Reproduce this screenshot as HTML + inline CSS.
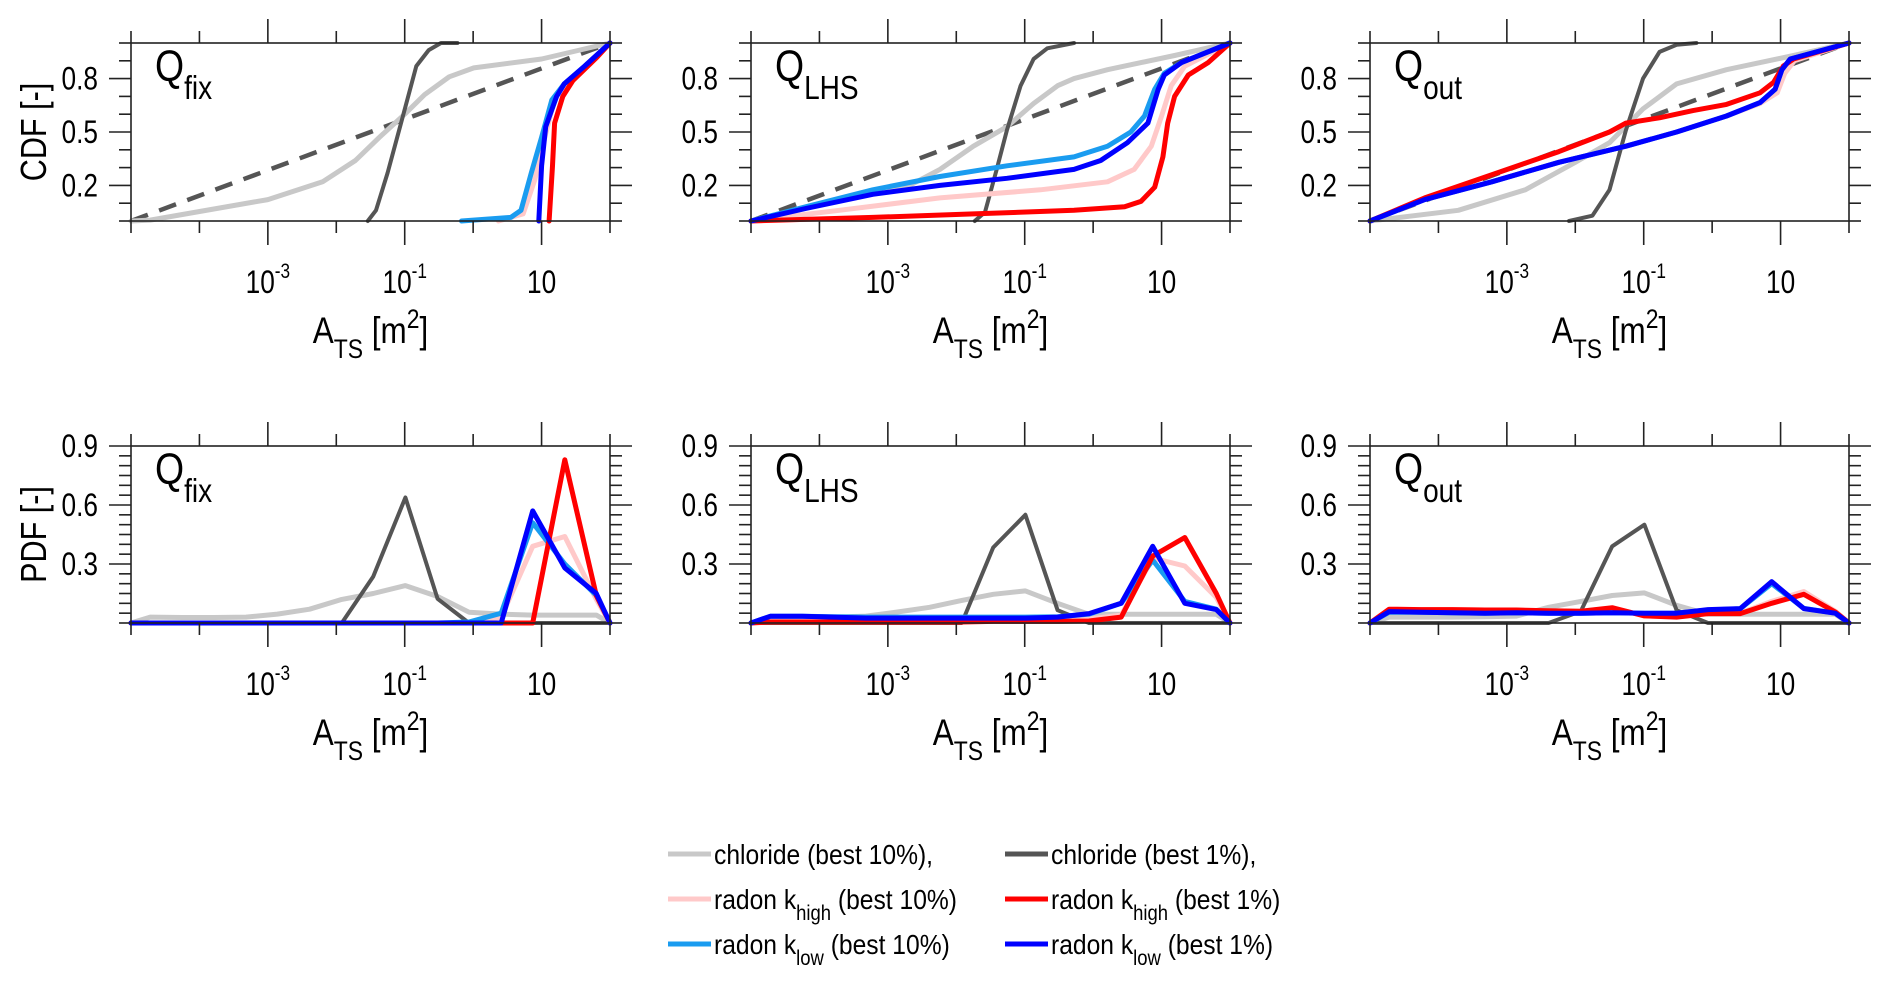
<!DOCTYPE html>
<html><head><meta charset="utf-8"><style>
html,body{margin:0;padding:0;background:#fff;}
svg{display:block;font-family:"Liberation Sans",Arial,sans-serif;}
</style></head><body>
<svg id="fig" width="1892" height="982" viewBox="0 0 1892 982" xmlns="http://www.w3.org/2000/svg"></svg>
<script>
// ---------- data ----------
const xTickDecades=[-5,-4,-3,-2,-1,0,1,2];
const xLabelDecades=[-3,-1,1];
const xLabelBase=["10","10","10"];
const xLabelExp=["-3","-1",""];
const cdfTickLabels=["0.2","0.5","0.8"];
const cdfTickValues=[0.2,0.5,0.8];
const pdfTickLabels=["0.3","0.6","0.9"];
const pdfTickValues=[0.3,0.6,0.9];
const panelNames=["fix","LHS","out"];
// PDF bin centres (log10 A)
const pdfBins=[-5,-4.72,-4.25,-3.79,-3.32,-2.86,-2.39,-1.92,-1.46,-0.99,-0.52,-0.06,0.41,0.87,1.34,1.80,2];
// CDF series: [log10 A, CDF]
const priorLine=[[-5,0],[2,1]];
const cdfFixChl10=[[-5,0],[-4.72,0.005],[-3.0,0.12],[-2.2,0.22],[-1.72,0.34],[-1.37,0.47],[-1.0,0.6],[-0.71,0.71],[-0.35,0.81],[0.01,0.86],[1.0,0.91],[2,1]];
const cdfFixChl1=[[-1.54,0],[-1.42,0.06],[-1.25,0.27],[-1.04,0.57],[-0.83,0.87],[-0.65,0.96],[-0.47,1],[-0.23,1]];
const cdfFixHigh10=[[0.37,0],[0.73,0.04],[0.9,0.23],[1.06,0.49],[1.2,0.7],[1.35,0.77],[1.63,0.87],[2,1]];
const cdfFixLow10=[[-0.17,0],[0.55,0.02],[0.7,0.06],[0.85,0.27],[1.0,0.47],[1.15,0.68],[1.33,0.77],[1.63,0.87],[2,1]];
const cdfFixHigh1=[[1.11,0],[1.16,0.31],[1.19,0.55],[1.31,0.7],[1.46,0.79],[1.81,0.92],[2,1]];
const cdfFixLow1=[[0.96,0],[1.0,0.31],[1.06,0.53],[1.22,0.7],[1.33,0.77],[1.63,0.87],[2,1]];
const cdfLhsChl10=[[-5,0],[-3.71,0.12],[-2.73,0.19],[-2.24,0.29],[-1.75,0.42],[-1.26,0.53],[-0.87,0.66],[-0.52,0.76],[-0.28,0.8],[0.21,0.85],[1.19,0.93],[2,1]];
const cdfLhsChl1=[[-1.73,0],[-1.58,0.05],[-1.41,0.29],[-1.26,0.51],[-1.06,0.76],[-0.87,0.91],[-0.67,0.97],[-0.28,1]];
const cdfLhsHigh10=[[-5,0],[-3.71,0.06],[-2.24,0.13],[-0.77,0.175],[0.21,0.22],[0.6,0.29],[0.85,0.42],[1.0,0.59],[1.14,0.76],[1.34,0.87],[2,1]];
const cdfLhsLow10=[[-5,0],[-4.2,0.08],[-3.22,0.175],[-2.24,0.25],[-1.26,0.31],[-0.28,0.36],[0.21,0.42],[0.55,0.5],[0.75,0.59],[0.9,0.74],[1.04,0.83],[1.29,0.89],[2,1]];
const cdfLhsHigh1=[[-5,0],[-3.22,0.02],[-1.75,0.04],[-0.28,0.06],[0.46,0.08],[0.7,0.11],[0.9,0.19],[1.02,0.36],[1.09,0.55],[1.19,0.7],[1.39,0.82],[1.68,0.89],[2,1]];
const cdfLhsLow1=[[-5,0],[-4.2,0.07],[-3.22,0.15],[-2.24,0.2],[-1.26,0.24],[-0.28,0.29],[0.11,0.34],[0.5,0.44],[0.8,0.55],[0.95,0.74],[1.04,0.82],[1.29,0.89],[2,1]];
const cdfOutChl10=[[-5,0],[-3.71,0.06],[-2.73,0.175],[-2.0,0.33],[-1.5,0.44],[-1.01,0.63],[-0.52,0.77],[0.21,0.85],[1.19,0.93],[2,1]];
const cdfOutChl1=[[-2.09,0],[-1.75,0.03],[-1.5,0.175],[-1.26,0.51],[-1.01,0.8],[-0.77,0.95],[-0.52,0.99],[-0.23,1]];
const cdfOutHigh10=[[-5,0],[-4.2,0.12],[-3.22,0.22],[-2.24,0.33],[-1.26,0.42],[-0.52,0.5],[0.21,0.59],[0.7,0.66],[0.95,0.72],[1.06,0.83],[1.2,0.9],[2,1]];
const cdfOutLow10=[[-5,0],[-4.2,0.12],[-3.22,0.22],[-2.24,0.33],[-1.26,0.42],[-0.52,0.5],[0.21,0.59],[0.7,0.665],[0.92,0.74],[1.02,0.85],[1.14,0.91],[2,1]];
const cdfOutHigh1=[[-5,0],[-4.2,0.13],[-3.22,0.26],[-2.24,0.39],[-1.5,0.5],[-1.26,0.55],[-0.77,0.58],[-0.28,0.62],[0.21,0.655],[0.7,0.72],[0.9,0.78],[1.04,0.87],[1.19,0.91],[2,1]];
const cdfOutLow1=[[-5,0],[-4.2,0.12],[-3.22,0.22],[-2.24,0.33],[-1.26,0.42],[-0.52,0.5],[0.21,0.59],[0.7,0.665],[0.92,0.74],[1.02,0.85],[1.14,0.91],[2,1]];
// PDF series values (one per bin)
const pdfFixChl10=[0,0.03,0.028,0.028,0.03,0.045,0.07,0.12,0.15,0.19,0.135,0.055,0.045,0.04,0.04,0.04,0];
const pdfFixChl1=[0,0,0,0,0,0,0,0,0.236,0.638,0.123,0,0,0,0,0,0];
const pdfFixHigh10=[0,0,0,0,0,0,0,0,0,0,0,0,0.03,0.39,0.44,0.12,0];
const pdfFixLow10=[0,0,0,0,0,0,0,0,0,0,0,0.005,0.05,0.51,0.30,0.14,0];
const pdfFixHigh1=[0,0,0,0,0,0,0,0,0,0,0,0,0,0,0.83,0.14,0];
const pdfFixLow1=[0,0,0,0,0,0,0,0,0,0,0,0,0,0.57,0.28,0.15,0];
const pdfLhsChl10=[0,0.03,0.03,0.03,0.035,0.056,0.08,0.115,0.146,0.163,0.1,0.044,0.044,0.044,0.044,0.044,0];
const pdfLhsChl1=[0,0,0,0,0,0,0,0,0.384,0.55,0.065,0,0,0,0,0,0];
const pdfLhsHigh10=[0,0.01,0.01,0.01,0.01,0.01,0.01,0.01,0.01,0.01,0.012,0.02,0.04,0.33,0.29,0.13,0];
const pdfLhsLow10=[0,0.034,0.034,0.032,0.03,0.03,0.03,0.03,0.03,0.03,0.032,0.045,0.1,0.32,0.11,0.07,0];
const pdfLhsHigh1=[0,0.005,0.005,0.005,0.005,0.005,0.005,0.005,0.008,0.008,0.008,0.01,0.03,0.34,0.435,0.15,0];
const pdfLhsLow1=[0,0.034,0.034,0.03,0.025,0.025,0.025,0.025,0.025,0.025,0.03,0.048,0.1,0.39,0.1,0.068,0];
const pdfOutChl10=[0,0.03,0.03,0.03,0.032,0.035,0.08,0.11,0.14,0.153,0.09,0.044,0.044,0.044,0.044,0.044,0];
const pdfOutChl1=[0,0,0,0,0,0,0,0.06,0.39,0.5,0.065,0,0,0,0,0,0];
const pdfOutHigh10=[0,0.068,0.068,0.068,0.066,0.066,0.062,0.06,0.075,0.038,0.032,0.048,0.05,0.11,0.16,0.06,0];
const pdfOutLow10=[0,0.055,0.055,0.052,0.05,0.052,0.05,0.05,0.052,0.05,0.05,0.066,0.072,0.2,0.075,0.05,0];
const pdfOutHigh1=[0,0.07,0.068,0.068,0.066,0.066,0.062,0.06,0.078,0.036,0.03,0.048,0.048,0.10,0.146,0.056,0];
const pdfOutLow1=[0,0.058,0.055,0.052,0.05,0.052,0.05,0.05,0.052,0.05,0.05,0.068,0.073,0.21,0.073,0.05,0];

// ---------- drawing ----------
const NS="http://www.w3.org/2000/svg";
const svg=document.getElementById('fig');
const C={chl10:"#c8c8c8",chl1:"#555555",high10:"#ffc9c9",high1:"#ff0000",low10:"#1a9cf0",low1:"#0000ff"};
function mk(tag,attrs,parent){const e=document.createElementNS(NS,tag);for(const k in attrs)e.setAttribute(k,attrs[k]);(parent||svg).appendChild(e);return e;}
function txt(parent,x,y,size,anchor,sx){return mk('text',{x:0,y:0,'text-anchor':anchor,'font-size':size,fill:'#000',transform:'translate('+x+','+y+') scale('+sx+',1)'},parent);}
const colL=[131,751,1370], colW=479;
const rows=[{top:43,bot:221,kind:"cdf"},{top:446,bot:623,kind:"pdf"}];
function xs(L,u){return L+(u+5)/7*colW;}
function ys(r,v){const max=r.kind==="cdf"?1:0.9;return r.bot-v/max*(r.bot-r.top);}
const cdfSets=[[cdfFixChl10,cdfFixChl1,cdfFixHigh10,cdfFixLow10,cdfFixHigh1,cdfFixLow1],[cdfLhsChl10,cdfLhsChl1,cdfLhsHigh10,cdfLhsLow10,cdfLhsHigh1,cdfLhsLow1],[cdfOutChl10,cdfOutChl1,cdfOutHigh10,cdfOutLow10,cdfOutHigh1,cdfOutLow1]];
const pdfSets=[[pdfFixChl10,pdfFixChl1,pdfFixHigh10,pdfFixLow10,pdfFixHigh1,pdfFixLow1],[pdfLhsChl10,pdfLhsChl1,pdfLhsHigh10,pdfLhsLow10,pdfLhsHigh1,pdfLhsLow1],[pdfOutChl10,pdfOutChl1,pdfOutHigh10,pdfOutLow10,pdfOutHigh1,pdfOutLow1]];
const seriesKeys=["chl10","chl1","high10","low10","high1","low1"];
const seriesW=[5,4,5,5,5,5];

rows.forEach((r,ri)=>{
  colL.forEach((L,ci)=>{
    const R=L+colW;
    const g=mk('g',{});
    
    
    if(r.kind==="cdf"){
      const d=mk('polyline',{points:priorLine.map(p=>xs(L,p[0])+','+ys(r,p[1])).join(' '),fill:'none',stroke:'#555','stroke-width':4.5,'stroke-dasharray':'18 12'},g);
      
      
    }
    [0,1,2,3,4,5].forEach(si=>{
      let pts;
      if(r.kind==="cdf"){pts=cdfSets[ci][si].map(p=>xs(L,p[0]).toFixed(1)+','+ys(r,p[1]).toFixed(1));}
      else{pts=pdfSets[ci][si].map((v,i)=>xs(L,pdfBins[i]).toFixed(1)+','+ys(r,v).toFixed(1));}
      const pl=mk('polyline',{points:pts.join(' '),fill:'none',stroke:C[seriesKeys[si]],'stroke-width':seriesW[si],'stroke-linejoin':'round','stroke-linecap':'round'},g);
      
      
    });
    const fr=mk('rect',{x:L,y:r.top,width:colW,height:r.bot-r.top,fill:'none',stroke:'#222','stroke-width':1.6},g);
    
    
    xTickDecades.forEach(dc=>{
      const x=xs(L,dc), len=xLabelDecades.includes(dc)?24:12;
      const t1=mk('line',{x1:x,x2:x,y1:r.top,y2:r.top-len,stroke:'#222','stroke-width':1.6},g);
      
      
      const t2=mk('line',{x1:x,x2:x,y1:r.bot,y2:r.bot+len,stroke:'#222','stroke-width':1.6},g);
      
      
    });
    xLabelDecades.forEach((dc,i)=>{
      const t=txt(g,xs(L,dc)+(xLabelExp[i]?0:0),r.bot+72,32,'middle',0.82);
      
      
      t.appendChild(document.createTextNode(xLabelBase[i]));
      if(xLabelExp[i]){const s=mk('tspan',{dy:-15,'font-size':21},t);s.textContent=xLabelExp[i];}
    });
    const max=r.kind==="cdf"?1:0.9, step=r.kind==="cdf"?0.1:0.05;
    const majors=r.kind==="cdf"?cdfTickValues:pdfTickValues;
    const labels=r.kind==="cdf"?cdfTickLabels:pdfTickLabels;
    for(let v=0;v<=max+1e-6;v+=step){
      const y=ys(r,v), isM=majors.some(m=>Math.abs(m-v)<1e-6), len=isM?22:12;
      const a=mk('line',{x1:L,x2:L-len,y1:y,y2:y,stroke:'#222','stroke-width':1.6},g);
      
      
      const b=mk('line',{x1:R,x2:R+len,y1:y,y2:y,stroke:'#222','stroke-width':1.6},g);
      
      
    }
    majors.forEach((v,i)=>{
      const t=txt(g,L-33,ys(r,v)+11,32,'end',0.82);
      
      
      t.textContent=labels[i];
    });
    const q=txt(g,L+24,r.top+38,44,'start',0.85);
    
    
    q.appendChild(document.createTextNode('Q'));
    const qs=mk('tspan',{dy:18,'font-size':33},q);qs.textContent=panelNames[ci];
    const xt=txt(g,L+colW/2,r.bot+122,37,'middle',0.85);
    
    
    xt.appendChild(document.createTextNode('A'));
    const s1=mk('tspan',{dy:15,'font-size':27},xt);s1.textContent='TS';
    const s2=mk('tspan',{dy:-15},xt);s2.textContent=' [m';
    const s3=mk('tspan',{dy:-15,'font-size':27},xt);s3.textContent='2';
    const s4=mk('tspan',{dy:15},xt);s4.textContent=']';
    if(ci===0){
      const cy=(r.top+r.bot)/2;
      const yt=mk('text',{x:0,y:0,'text-anchor':'middle','font-size':36,fill:'#000',transform:'translate(46,'+cy+') rotate(-90) scale(0.85,1)'},g);
      
      
      yt.textContent=r.kind==="cdf"?"CDF [-]":"PDF [-]";
    }
  });
});

// legend
const legKeys=["chl10","chl1","high10","high1","low10","low1"];
const legMain=["chloride (best 10%),","chloride (best 1%),","radon k","radon k","radon k","radon k"];
const legSub=["","","high","high","low","low"];
const legTail=["","","(best 10%)","(best 1%)","(best 10%)","(best 1%)"];
const lg=mk('g',{});


const legX=[668,1005], legY=[854,899,944];
legKeys.forEach((k,i)=>{
  const cx=legX[i%2], cy=legY[Math.floor(i/2)];
  const e=mk('g',{},lg);
  
  
  mk('line',{x1:cx,x2:cx+43,y1:cy,y2:cy,stroke:C[k],'stroke-width':5},e);
  const t=txt(e,cx+46,cy+10,28,'start',0.88);
  t.appendChild(document.createTextNode(legMain[i]));
  if(legSub[i]){
    const s=mk('tspan',{dy:11,'font-size':21},t);s.textContent=legSub[i];
    const r2=mk('tspan',{dy:-11},t);r2.textContent=' '+legTail[i];
  }
});
</script>
</body></html>
